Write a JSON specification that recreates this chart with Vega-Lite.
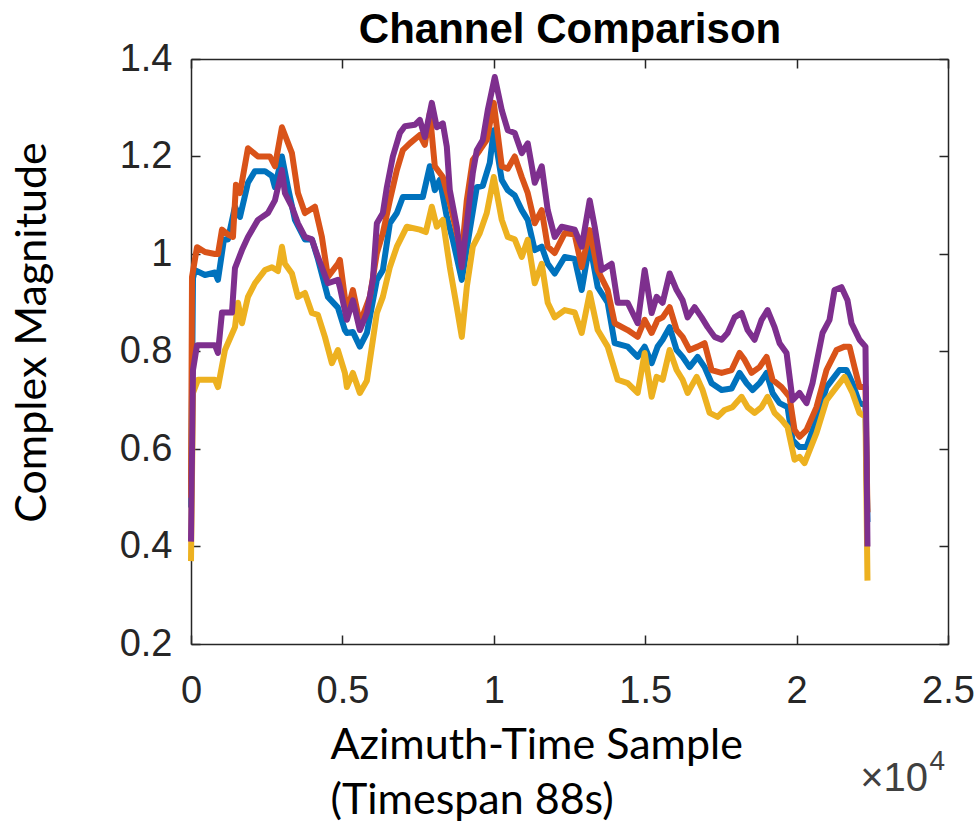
{
  "$schema": "https://vega.github.io/schema/vega-lite/v6.json",
  "autosize": {"type": "none"},
  "width": 757,
  "height": 585,
  "padding": {"left": 191, "top": 59, "right": 31, "bottom": 182},
  "background": "white",
  "config": {
    "view": {"stroke": null},
    "axis": {
      "grid": false,
      "domainColor": "#262626",
      "domainWidth": 1.5,
      "tickColor": "#262626",
      "tickWidth": 1.5,
      "tickSize": -9,
      "labelFont": "Liberation Sans",
      "labelFontSize": 38,
      "labelColor": "#262626",
      "titleFont": "Lato",
      "titleFontSize": 43,
      "titleFontWeight": "normal",
      "titleColor": "#000000"
    }
  },
  "data": {
    "values": [
      {"ch":"Ch1","s":0,"v":0.48},{"ch":"Ch1","s":66,"v":0.95},{"ch":"Ch1","s":132,"v":0.967},{"ch":"Ch1","s":462,"v":0.957},{"ch":"Ch1","s":792,"v":0.962},{"ch":"Ch1","s":891,"v":0.947},{"ch":"Ch1","s":1089,"v":1.03},{"ch":"Ch1","s":1221,"v":1.03},{"ch":"Ch1","s":1452,"v":1.097},{"ch":"Ch1","s":1617,"v":1.076},{"ch":"Ch1","s":1881,"v":1.146},{"ch":"Ch1","s":2112,"v":1.17},{"ch":"Ch1","s":2442,"v":1.17},{"ch":"Ch1","s":2673,"v":1.16},{"ch":"Ch1","s":2772,"v":1.137},{"ch":"Ch1","s":3003,"v":1.2},{"ch":"Ch1","s":3201,"v":1.137},{"ch":"Ch1","s":3432,"v":1.07},{"ch":"Ch1","s":3762,"v":1.03},{"ch":"Ch1","s":3993,"v":1.03},{"ch":"Ch1","s":4191,"v":0.99},{"ch":"Ch1","s":4521,"v":0.912},{"ch":"Ch1","s":4851,"v":0.89},{"ch":"Ch1","s":5082,"v":0.844},{"ch":"Ch1","s":5148,"v":0.838},{"ch":"Ch1","s":5346,"v":0.84},{"ch":"Ch1","s":5577,"v":0.81},{"ch":"Ch1","s":5808,"v":0.838},{"ch":"Ch1","s":6138,"v":0.947},{"ch":"Ch1","s":6336,"v":0.967},{"ch":"Ch1","s":6567,"v":1.063},{"ch":"Ch1","s":6798,"v":1.084},{"ch":"Ch1","s":6996,"v":1.117},{"ch":"Ch1","s":7227,"v":1.117},{"ch":"Ch1","s":7656,"v":1.117},{"ch":"Ch1","s":7887,"v":1.18},{"ch":"Ch1","s":8052,"v":1.131},{"ch":"Ch1","s":8217,"v":1.152},{"ch":"Ch1","s":8448,"v":1.076},{"ch":"Ch1","s":8646,"v":1.029},{"ch":"Ch1","s":8943,"v":0.947},{"ch":"Ch1","s":9207,"v":1.049},{"ch":"Ch1","s":9438,"v":1.137},{"ch":"Ch1","s":9636,"v":1.14},{"ch":"Ch1","s":9867,"v":1.187},{"ch":"Ch1","s":9999,"v":1.254},{"ch":"Ch1","s":10263,"v":1.152},{"ch":"Ch1","s":10461,"v":1.131},{"ch":"Ch1","s":10692,"v":1.12},{"ch":"Ch1","s":10923,"v":1.09},{"ch":"Ch1","s":11121,"v":1.07},{"ch":"Ch1","s":11352,"v":1.008},{"ch":"Ch1","s":11583,"v":1.015},{"ch":"Ch1","s":11781,"v":0.98},{"ch":"Ch1","s":12012,"v":0.96},{"ch":"Ch1","s":12342,"v":0.994},{"ch":"Ch1","s":12672,"v":0.99},{"ch":"Ch1","s":12903,"v":0.926},{"ch":"Ch1","s":13167,"v":1.022},{"ch":"Ch1","s":13431,"v":0.932},{"ch":"Ch1","s":13761,"v":0.9},{"ch":"Ch1","s":13992,"v":0.817},{"ch":"Ch1","s":14421,"v":0.81},{"ch":"Ch1","s":14751,"v":0.789},{"ch":"Ch1","s":14982,"v":0.81},{"ch":"Ch1","s":15213,"v":0.776},{"ch":"Ch1","s":15411,"v":0.81},{"ch":"Ch1","s":15576,"v":0.824},{"ch":"Ch1","s":15807,"v":0.85},{"ch":"Ch1","s":16038,"v":0.803},{"ch":"Ch1","s":16236,"v":0.789},{"ch":"Ch1","s":16467,"v":0.768},{"ch":"Ch1","s":16731,"v":0.789},{"ch":"Ch1","s":16962,"v":0.768},{"ch":"Ch1","s":17193,"v":0.735},{"ch":"Ch1","s":17523,"v":0.721},{"ch":"Ch1","s":17853,"v":0.724},{"ch":"Ch1","s":18117,"v":0.756},{"ch":"Ch1","s":18348,"v":0.735},{"ch":"Ch1","s":18546,"v":0.721},{"ch":"Ch1","s":18777,"v":0.735},{"ch":"Ch1","s":19008,"v":0.756},{"ch":"Ch1","s":19206,"v":0.715},{"ch":"Ch1","s":19437,"v":0.694},{"ch":"Ch1","s":19701,"v":0.686},{"ch":"Ch1","s":19866,"v":0.618},{"ch":"Ch1","s":20097,"v":0.604},{"ch":"Ch1","s":20328,"v":0.604},{"ch":"Ch1","s":20658,"v":0.66},{"ch":"Ch1","s":20988,"v":0.727},{"ch":"Ch1","s":21417,"v":0.762},{"ch":"Ch1","s":21648,"v":0.762},{"ch":"Ch1","s":21846,"v":0.735},{"ch":"Ch1","s":22077,"v":0.694},{"ch":"Ch1","s":22275,"v":0.69},{"ch":"Ch1","s":22341,"v":0.45},

      {"ch":"Ch2","s":0,"v":0.5},{"ch":"Ch2","s":33,"v":0.953},{"ch":"Ch2","s":198,"v":1.014},{"ch":"Ch2","s":462,"v":1.004},{"ch":"Ch2","s":792,"v":1.0},{"ch":"Ch2","s":891,"v":1.0},{"ch":"Ch2","s":1023,"v":1.05},{"ch":"Ch2","s":1221,"v":1.04},{"ch":"Ch2","s":1386,"v":1.035},{"ch":"Ch2","s":1485,"v":1.142},{"ch":"Ch2","s":1617,"v":1.125},{"ch":"Ch2","s":1881,"v":1.217},{"ch":"Ch2","s":2211,"v":1.2},{"ch":"Ch2","s":2607,"v":1.2},{"ch":"Ch2","s":2772,"v":1.18},{"ch":"Ch2","s":3003,"v":1.26},{"ch":"Ch2","s":3333,"v":1.207},{"ch":"Ch2","s":3531,"v":1.125},{"ch":"Ch2","s":3762,"v":1.084},{"ch":"Ch2","s":4092,"v":1.097},{"ch":"Ch2","s":4323,"v":1.035},{"ch":"Ch2","s":4521,"v":0.953},{"ch":"Ch2","s":4851,"v":0.98},{"ch":"Ch2","s":4917,"v":0.988},{"ch":"Ch2","s":5148,"v":0.879},{"ch":"Ch2","s":5346,"v":0.926},{"ch":"Ch2","s":5577,"v":0.858},{"ch":"Ch2","s":5907,"v":0.912},{"ch":"Ch2","s":6138,"v":1.002},{"ch":"Ch2","s":6336,"v":1.043},{"ch":"Ch2","s":6567,"v":1.11},{"ch":"Ch2","s":6798,"v":1.172},{"ch":"Ch2","s":6996,"v":1.213},{"ch":"Ch2","s":7227,"v":1.227},{"ch":"Ch2","s":7557,"v":1.244},{"ch":"Ch2","s":7722,"v":1.224},{"ch":"Ch2","s":7887,"v":1.289},{"ch":"Ch2","s":8052,"v":1.18},{"ch":"Ch2","s":8316,"v":1.158},{"ch":"Ch2","s":8547,"v":1.105},{"ch":"Ch2","s":8778,"v":1.043},{"ch":"Ch2","s":8943,"v":1.0},{"ch":"Ch2","s":9108,"v":1.11},{"ch":"Ch2","s":9306,"v":1.193},{"ch":"Ch2","s":9537,"v":1.213},{"ch":"Ch2","s":9768,"v":1.234},{"ch":"Ch2","s":9999,"v":1.31},{"ch":"Ch2","s":10263,"v":1.18},{"ch":"Ch2","s":10461,"v":1.175},{"ch":"Ch2","s":10692,"v":1.2},{"ch":"Ch2","s":10923,"v":1.158},{"ch":"Ch2","s":11121,"v":1.125},{"ch":"Ch2","s":11352,"v":1.063},{"ch":"Ch2","s":11583,"v":1.09},{"ch":"Ch2","s":11781,"v":1.015},{"ch":"Ch2","s":12012,"v":1.002},{"ch":"Ch2","s":12342,"v":1.043},{"ch":"Ch2","s":12672,"v":1.04},{"ch":"Ch2","s":12903,"v":0.973},{"ch":"Ch2","s":13167,"v":1.049},{"ch":"Ch2","s":13431,"v":0.967},{"ch":"Ch2","s":13761,"v":0.926},{"ch":"Ch2","s":13992,"v":0.858},{"ch":"Ch2","s":14421,"v":0.844},{"ch":"Ch2","s":14751,"v":0.83},{"ch":"Ch2","s":14982,"v":0.865},{"ch":"Ch2","s":15213,"v":0.838},{"ch":"Ch2","s":15411,"v":0.865},{"ch":"Ch2","s":15576,"v":0.87},{"ch":"Ch2","s":15807,"v":0.891},{"ch":"Ch2","s":16038,"v":0.844},{"ch":"Ch2","s":16236,"v":0.83},{"ch":"Ch2","s":16467,"v":0.803},{"ch":"Ch2","s":16731,"v":0.81},{"ch":"Ch2","s":16962,"v":0.817},{"ch":"Ch2","s":17193,"v":0.762},{"ch":"Ch2","s":17523,"v":0.756},{"ch":"Ch2","s":17853,"v":0.762},{"ch":"Ch2","s":18117,"v":0.797},{"ch":"Ch2","s":18282,"v":0.783},{"ch":"Ch2","s":18513,"v":0.756},{"ch":"Ch2","s":18777,"v":0.768},{"ch":"Ch2","s":19008,"v":0.789},{"ch":"Ch2","s":19206,"v":0.742},{"ch":"Ch2","s":19503,"v":0.727},{"ch":"Ch2","s":19767,"v":0.707},{"ch":"Ch2","s":19932,"v":0.639},{"ch":"Ch2","s":20097,"v":0.625},{"ch":"Ch2","s":20328,"v":0.639},{"ch":"Ch2","s":20658,"v":0.686},{"ch":"Ch2","s":20988,"v":0.762},{"ch":"Ch2","s":21318,"v":0.803},{"ch":"Ch2","s":21582,"v":0.81},{"ch":"Ch2","s":21747,"v":0.81},{"ch":"Ch2","s":21912,"v":0.768},{"ch":"Ch2","s":22077,"v":0.727},{"ch":"Ch2","s":22275,"v":0.727},{"ch":"Ch2","s":22341,"v":0.47},

      {"ch":"Ch3","s":0,"v":0.37},{"ch":"Ch3","s":66,"v":0.715},{"ch":"Ch3","s":231,"v":0.742},{"ch":"Ch3","s":792,"v":0.742},{"ch":"Ch3","s":891,"v":0.727},{"ch":"Ch3","s":1122,"v":0.803},{"ch":"Ch3","s":1452,"v":0.85},{"ch":"Ch3","s":1551,"v":0.9},{"ch":"Ch3","s":1683,"v":0.858},{"ch":"Ch3","s":1881,"v":0.912},{"ch":"Ch3","s":2112,"v":0.94},{"ch":"Ch3","s":2442,"v":0.967},{"ch":"Ch3","s":2673,"v":0.973},{"ch":"Ch3","s":2871,"v":0.965},{"ch":"Ch3","s":3003,"v":1.015},{"ch":"Ch3","s":3102,"v":0.98},{"ch":"Ch3","s":3333,"v":0.96},{"ch":"Ch3","s":3531,"v":0.912},{"ch":"Ch3","s":3762,"v":0.92},{"ch":"Ch3","s":3993,"v":0.879},{"ch":"Ch3","s":4191,"v":0.875},{"ch":"Ch3","s":4422,"v":0.83},{"ch":"Ch3","s":4653,"v":0.776},{"ch":"Ch3","s":4851,"v":0.803},{"ch":"Ch3","s":5082,"v":0.756},{"ch":"Ch3","s":5148,"v":0.727},{"ch":"Ch3","s":5346,"v":0.756},{"ch":"Ch3","s":5577,"v":0.715},{"ch":"Ch3","s":5808,"v":0.74},{"ch":"Ch3","s":6138,"v":0.879},{"ch":"Ch3","s":6336,"v":0.912},{"ch":"Ch3","s":6567,"v":0.973},{"ch":"Ch3","s":6798,"v":1.015},{"ch":"Ch3","s":7128,"v":1.056},{"ch":"Ch3","s":7557,"v":1.05},{"ch":"Ch3","s":7755,"v":1.045},{"ch":"Ch3","s":7953,"v":1.097},{"ch":"Ch3","s":8118,"v":1.056},{"ch":"Ch3","s":8316,"v":1.07},{"ch":"Ch3","s":8547,"v":0.973},{"ch":"Ch3","s":8778,"v":0.891},{"ch":"Ch3","s":8943,"v":0.83},{"ch":"Ch3","s":9108,"v":0.932},{"ch":"Ch3","s":9306,"v":1.015},{"ch":"Ch3","s":9537,"v":1.043},{"ch":"Ch3","s":9768,"v":1.084},{"ch":"Ch3","s":9999,"v":1.158},{"ch":"Ch3","s":10263,"v":1.07},{"ch":"Ch3","s":10461,"v":1.035},{"ch":"Ch3","s":10692,"v":1.03},{"ch":"Ch3","s":10923,"v":0.994},{"ch":"Ch3","s":11121,"v":1.029},{"ch":"Ch3","s":11352,"v":0.94},{"ch":"Ch3","s":11583,"v":0.98},{"ch":"Ch3","s":11781,"v":0.9},{"ch":"Ch3","s":12012,"v":0.87},{"ch":"Ch3","s":12342,"v":0.885},{"ch":"Ch3","s":12672,"v":0.88},{"ch":"Ch3","s":12903,"v":0.838},{"ch":"Ch3","s":13167,"v":0.92},{"ch":"Ch3","s":13431,"v":0.844},{"ch":"Ch3","s":13761,"v":0.81},{"ch":"Ch3","s":14091,"v":0.742},{"ch":"Ch3","s":14421,"v":0.735},{"ch":"Ch3","s":14751,"v":0.715},{"ch":"Ch3","s":14982,"v":0.797},{"ch":"Ch3","s":15213,"v":0.707},{"ch":"Ch3","s":15378,"v":0.748},{"ch":"Ch3","s":15576,"v":0.742},{"ch":"Ch3","s":15807,"v":0.803},{"ch":"Ch3","s":16038,"v":0.762},{"ch":"Ch3","s":16236,"v":0.742},{"ch":"Ch3","s":16401,"v":0.715},{"ch":"Ch3","s":16698,"v":0.748},{"ch":"Ch3","s":16896,"v":0.721},{"ch":"Ch3","s":17127,"v":0.674},{"ch":"Ch3","s":17391,"v":0.666},{"ch":"Ch3","s":17622,"v":0.68},{"ch":"Ch3","s":17886,"v":0.686},{"ch":"Ch3","s":18183,"v":0.707},{"ch":"Ch3","s":18381,"v":0.686},{"ch":"Ch3","s":18612,"v":0.674},{"ch":"Ch3","s":18843,"v":0.686},{"ch":"Ch3","s":19041,"v":0.707},{"ch":"Ch3","s":19272,"v":0.674},{"ch":"Ch3","s":19503,"v":0.66},{"ch":"Ch3","s":19701,"v":0.645},{"ch":"Ch3","s":19932,"v":0.578},{"ch":"Ch3","s":20097,"v":0.584},{"ch":"Ch3","s":20262,"v":0.571},{"ch":"Ch3","s":20658,"v":0.633},{"ch":"Ch3","s":20988,"v":0.7},{"ch":"Ch3","s":21318,"v":0.727},{"ch":"Ch3","s":21582,"v":0.748},{"ch":"Ch3","s":21846,"v":0.715},{"ch":"Ch3","s":22077,"v":0.674},{"ch":"Ch3","s":22275,"v":0.666},{"ch":"Ch3","s":22341,"v":0.33},

      {"ch":"Ch4","s":0,"v":0.41},{"ch":"Ch4","s":66,"v":0.762},{"ch":"Ch4","s":198,"v":0.813},{"ch":"Ch4","s":792,"v":0.813},{"ch":"Ch4","s":891,"v":0.797},{"ch":"Ch4","s":1023,"v":0.88},{"ch":"Ch4","s":1353,"v":0.88},{"ch":"Ch4","s":1452,"v":0.971},{"ch":"Ch4","s":1683,"v":1.008},{"ch":"Ch4","s":1881,"v":1.035},{"ch":"Ch4","s":2211,"v":1.07},{"ch":"Ch4","s":2541,"v":1.084},{"ch":"Ch4","s":2772,"v":1.11},{"ch":"Ch4","s":3003,"v":1.172},{"ch":"Ch4","s":3102,"v":1.125},{"ch":"Ch4","s":3333,"v":1.097},{"ch":"Ch4","s":3531,"v":1.063},{"ch":"Ch4","s":3762,"v":1.035},{"ch":"Ch4","s":3993,"v":1.03},{"ch":"Ch4","s":4191,"v":0.994},{"ch":"Ch4","s":4521,"v":0.94},{"ch":"Ch4","s":4851,"v":0.947},{"ch":"Ch4","s":4917,"v":0.932},{"ch":"Ch4","s":5148,"v":0.865},{"ch":"Ch4","s":5346,"v":0.905},{"ch":"Ch4","s":5577,"v":0.844},{"ch":"Ch4","s":5808,"v":0.879},{"ch":"Ch4","s":6006,"v":0.947},{"ch":"Ch4","s":6138,"v":1.063},{"ch":"Ch4","s":6336,"v":1.084},{"ch":"Ch4","s":6468,"v":1.137},{"ch":"Ch4","s":6666,"v":1.2},{"ch":"Ch4","s":6897,"v":1.248},{"ch":"Ch4","s":7062,"v":1.262},{"ch":"Ch4","s":7392,"v":1.265},{"ch":"Ch4","s":7557,"v":1.275},{"ch":"Ch4","s":7722,"v":1.24},{"ch":"Ch4","s":7953,"v":1.31},{"ch":"Ch4","s":8118,"v":1.26},{"ch":"Ch4","s":8316,"v":1.268},{"ch":"Ch4","s":8448,"v":1.22},{"ch":"Ch4","s":8547,"v":1.131},{"ch":"Ch4","s":8778,"v":1.056},{"ch":"Ch4","s":8943,"v":0.973},{"ch":"Ch4","s":9108,"v":1.063},{"ch":"Ch4","s":9306,"v":1.166},{"ch":"Ch4","s":9438,"v":1.213},{"ch":"Ch4","s":9636,"v":1.234},{"ch":"Ch4","s":9801,"v":1.295},{"ch":"Ch4","s":10032,"v":1.363},{"ch":"Ch4","s":10263,"v":1.295},{"ch":"Ch4","s":10461,"v":1.254},{"ch":"Ch4","s":10692,"v":1.248},{"ch":"Ch4","s":10923,"v":1.207},{"ch":"Ch4","s":11121,"v":1.227},{"ch":"Ch4","s":11352,"v":1.146},{"ch":"Ch4","s":11583,"v":1.18},{"ch":"Ch4","s":11781,"v":1.09},{"ch":"Ch4","s":12012,"v":1.035},{"ch":"Ch4","s":12243,"v":1.056},{"ch":"Ch4","s":12672,"v":1.05},{"ch":"Ch4","s":12903,"v":1.015},{"ch":"Ch4","s":13167,"v":1.11},{"ch":"Ch4","s":13332,"v":1.056},{"ch":"Ch4","s":13563,"v":0.967},{"ch":"Ch4","s":13893,"v":0.98},{"ch":"Ch4","s":14091,"v":0.9},{"ch":"Ch4","s":14421,"v":0.9},{"ch":"Ch4","s":14751,"v":0.858},{"ch":"Ch4","s":14982,"v":0.967},{"ch":"Ch4","s":15213,"v":0.879},{"ch":"Ch4","s":15378,"v":0.912},{"ch":"Ch4","s":15576,"v":0.9},{"ch":"Ch4","s":15807,"v":0.96},{"ch":"Ch4","s":16038,"v":0.926},{"ch":"Ch4","s":16236,"v":0.905},{"ch":"Ch4","s":16401,"v":0.87},{"ch":"Ch4","s":16632,"v":0.891},{"ch":"Ch4","s":16863,"v":0.87},{"ch":"Ch4","s":17061,"v":0.85},{"ch":"Ch4","s":17292,"v":0.83},{"ch":"Ch4","s":17523,"v":0.824},{"ch":"Ch4","s":17721,"v":0.838},{"ch":"Ch4","s":17952,"v":0.87},{"ch":"Ch4","s":18183,"v":0.879},{"ch":"Ch4","s":18381,"v":0.844},{"ch":"Ch4","s":18612,"v":0.824},{"ch":"Ch4","s":18843,"v":0.865},{"ch":"Ch4","s":19041,"v":0.885},{"ch":"Ch4","s":19272,"v":0.85},{"ch":"Ch4","s":19437,"v":0.817},{"ch":"Ch4","s":19668,"v":0.797},{"ch":"Ch4","s":19866,"v":0.7},{"ch":"Ch4","s":20097,"v":0.715},{"ch":"Ch4","s":20328,"v":0.694},{"ch":"Ch4","s":20526,"v":0.735},{"ch":"Ch4","s":20856,"v":0.838},{"ch":"Ch4","s":21087,"v":0.865},{"ch":"Ch4","s":21252,"v":0.926},{"ch":"Ch4","s":21483,"v":0.932},{"ch":"Ch4","s":21681,"v":0.905},{"ch":"Ch4","s":21813,"v":0.858},{"ch":"Ch4","s":22077,"v":0.824},{"ch":"Ch4","s":22275,"v":0.81},{"ch":"Ch4","s":22341,"v":0.4}
    ]
  },
  "layer": [
    {
      "mark": {"type": "line", "strokeWidth": 6, "strokeJoin": "round"},
      "encoding": {
        "x": {
          "field": "s",
          "type": "quantitative",
          "scale": {"domain": [0, 25000], "nice": false, "zero": false},
          "axis": {
            "orient": "bottom",
            "values": [0, 5000, 10000, 15000, 20000, 25000],
            "labelExpr": "format(datum.value / 10000, '~g')",
            "labelPadding": 37,
            "labelFlush": false,
            "title": ["Azimuth-Time Sample", "(Timespan 88s)"],
            "titleAnchor": "start",
            "titleAlign": "left",
            "titleBaseline": "alphabetic",
            "titleX": 139,
            "titleY": 114,
            "titleLineHeight": 55
          }
        },
        "y": {
          "field": "v",
          "type": "quantitative",
          "scale": {"domain": [0.2, 1.4], "nice": false, "zero": false},
          "axis": {
            "orient": "left",
            "values": [0.2, 0.4, 0.6, 0.8, 1.0, 1.2, 1.4],
            "labelExpr": "format(datum.value, '~g')",
            "labelPadding": 28,
            "labelFlush": false,
            "title": "Complex Magnitude",
            "titleAngle": -90,
            "titleBaseline": "alphabetic",
            "titleAlign": "center",
            "titleX": -146,
            "titleY": 273
          }
        },
        "color": {
          "field": "ch",
          "type": "nominal",
          "scale": {
            "domain": ["Ch1", "Ch2", "Ch3", "Ch4"],
            "range": ["#0072BD", "#D95319", "#EDB120", "#7E2F8E"]
          },
          "legend": null
        }
      }
    },
    {
      "mark": {"type": "line", "strokeOpacity": 0},
      "encoding": {
        "x": {
          "field": "s",
          "type": "quantitative",
          "axis": {
            "orient": "top",
            "values": [0, 5000, 10000, 15000, 20000, 25000],
            "labels": false,
            "title": "Channel Comparison",
            "titleFont": "Liberation Sans",
            "titleFontSize": 42,
            "titleFontWeight": "bold",
            "titleColor": "#000000",
            "titleAlign": "center",
            "titleAnchor": "middle",
            "titleBaseline": "alphabetic",
            "titleAngle": 0,
            "titleX": 378.5,
            "titleY": -17
          }
        },
        "y": {
          "field": "v",
          "type": "quantitative",
          "axis": {
            "orient": "right",
            "values": [0.2, 0.4, 0.6, 0.8, 1.0, 1.2, 1.4],
            "labels": false,
            "title": null
          }
        },
        "detail": {"field": "ch"}
      }
    },
    {
      "data": {"values": [{"t": "×10"}]},
      "mark": {
        "type": "text",
        "font": "Liberation Sans",
        "fontSize": 40,
        "color": "#404040",
        "align": "right",
        "baseline": "alphabetic",
        "dx": -20,
        "dy": 147
      },
      "encoding": {
        "x": {"datum": 25000, "type": "quantitative", "axis": null},
        "y": {"datum": 0.2, "type": "quantitative", "axis": null},
        "text": {"field": "t"}
      }
    },
    {
      "data": {"values": [{"t": "4"}]},
      "mark": {
        "type": "text",
        "font": "Liberation Sans",
        "fontSize": 28,
        "color": "#404040",
        "align": "right",
        "baseline": "alphabetic",
        "dx": -3,
        "dy": 126
      },
      "encoding": {
        "x": {"datum": 25000, "type": "quantitative", "axis": null},
        "y": {"datum": 0.2, "type": "quantitative", "axis": null},
        "text": {"field": "t"}
      }
    }
  ],
  "resolve": {"axis": {"x": "independent", "y": "independent"}}
}
